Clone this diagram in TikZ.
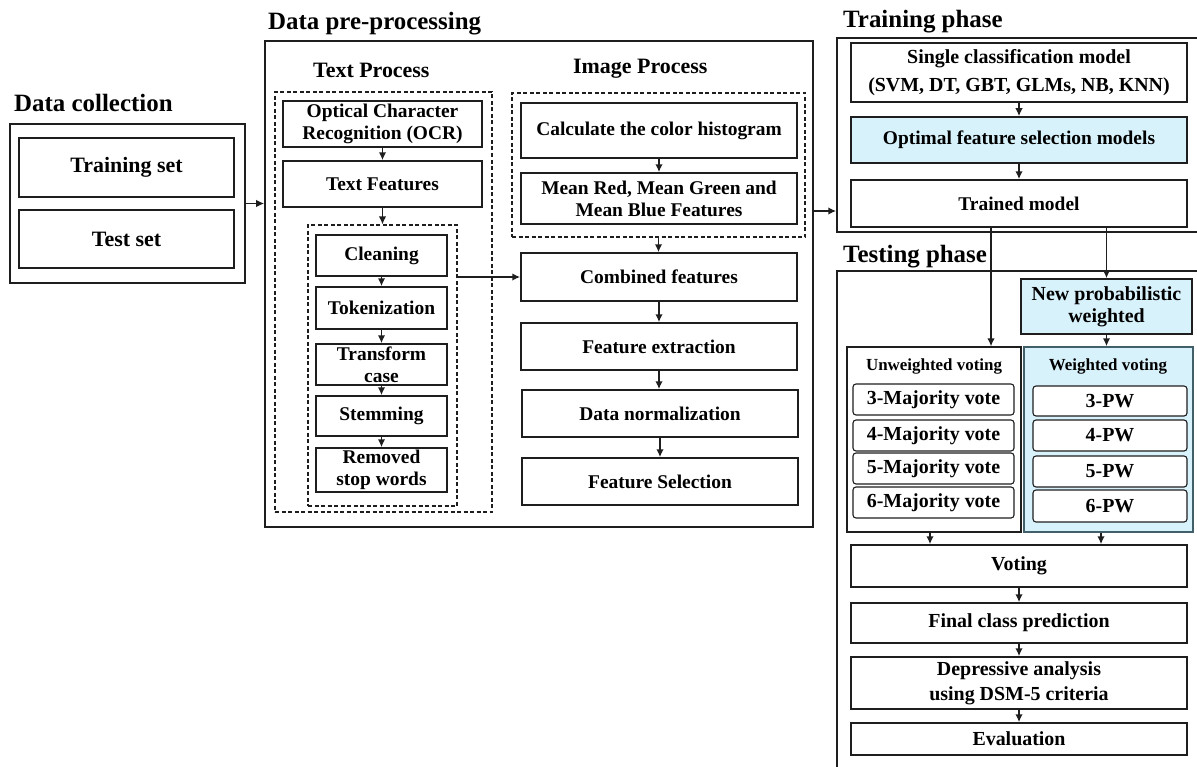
\documentclass[tikz,border=0pt]{standalone}
\usepackage{fontspec}
\setmainfont{Liberation Serif}
\usetikzlibrary{arrows.meta}
\definecolor{lb}{HTML}{D8F2FC}
\definecolor{wvb}{HTML}{41606A}
\definecolor{ln}{HTML}{1E1E1E}
\newcommand\bx[7]{\node[#1,minimum width={#5bp-#3bp},minimum height={#6bp-#4bp}] (#2) at ({(#3+#5)/2},{(#4+#6)/2}) {#7};}
\newcommand\fsz[2]{\fontsize{#1}{#2}\selectfont\bfseries}
\begin{document}
\begin{tikzpicture}[x=1bp,y=-1bp,
 box/.style={draw=ln,line width=1.5bp,inner sep=0pt,align=center,font=\fsz{19.5}{22}},
 cont/.style={draw=ln,line width=1.5bp,inner sep=0pt},
 dbox/.style={draw=ln,line width=1.1bp,dash pattern=on 4bp off 2.5bp,inner sep=0pt},
 rbox/.style={draw=ln,line width=1.1bp,rounded corners=3bp,fill=white,inner sep=0pt,align=center,font=\fsz{20}{22}},
 arr/.style={draw=ln,line width=1.8bp,-{Latex[length=8bp,width=7.5bp]}},
 ttl/.style={anchor=base west,inner sep=0pt,font=\fsz{25}{28}},
 sub/.style={anchor=base west,inner sep=0pt,font=\fsz{22}{24}},
 lab/.style={inner sep=0pt,font=\fsz{17}{19}},
]
\useasboundingbox (0,0) rectangle (1197,767);
\fill[white] (0,0) rectangle (1197,767);
\clip (0,0) rectangle (1197,767);

% Data collection
\node[ttl] (t1) at (14,112) {Data collection};
\bx{cont}{dc}{10}{124}{245}{283}{}
\bx{box,font=\fsz{22}{24}}{tr}{19}{138}{234}{197}{Training set}
\bx{box,font=\fsz{22}{24}}{ts}{19}{210}{234}{268}{Test set}

% Data pre-processing
\node[ttl] (t2) at (268,30) {Data pre-processing};
\bx{cont}{pre}{265}{41}{813}{527}{}
\node[sub] (t3) at (313,78) {Text Process};
\bx{dbox}{tdash}{275}{92}{492}{512}{}
\bx{box}{ocr}{283}{101}{482}{147}{Optical Character\\Recognition (OCR)}
\bx{box}{tf}{283}{161}{482}{207}{Text Features}
\bx{dbox}{tin}{308}{225}{457}{506}{}
\bx{box}{cl}{316}{235}{447}{276}{Cleaning}
\bx{box}{tok}{316}{287}{447}{329}{Tokenization}
\bx{box}{trc}{316}{344}{447}{385}{Transform\\case}
\bx{box}{stem}{316}{396}{447}{436}{Stemming}
\bx{box}{rsw}{316}{448}{447}{492}{Removed\\stop words}

\node[sub] (t4) at (573,74) {Image Process};
\bx{dbox}{imd}{512}{93}{805}{237}{}
\bx{box}{hist}{521}{103}{797}{158}{Calculate the color histogram}
\bx{box}{mrgb}{521}{173}{797}{224}{Mean Red, Mean Green and\\Mean Blue Features}
\bx{box}{comb}{521}{253}{797}{301}{Combined features}
\bx{box}{fe}{521}{323}{797}{370}{Feature extraction}
\bx{box}{dn}{522}{390}{798}{437}{Data normalization}
\bx{box}{fs}{522}{458}{798}{505}{Feature Selection}

% Training phase
\node[ttl] (t5) at (843,28) {Training phase};
\bx{cont}{trn}{837}{38}{1215}{232}{}
\bx{box,font=\fsz{20}{28}}{scm}{851}{43}{1187}{102}{Single classification model\\(SVM, DT, GBT, GLMs, NB, KNN)}
\bx{box,fill=lb}{ofs}{851}{117}{1187}{163}{Optimal feature selection models}
\bx{box}{tm}{851}{180}{1187}{227}{Trained model}

% Testing phase
\node[ttl] (t6) at (843,262) {Testing phase};
\bx{cont}{tst}{837}{271}{1215}{790}{}
\bx{box,fill=lb,font=\fsz{20}{22}}{npw}{1021}{279}{1192}{334}{New probabilistic\\weighted}
\bx{cont,line width=1.2bp}{uw}{847}{347}{1021}{532}{}
\bx{cont,line width=1.5bp,fill=lb,draw=wvb}{wv}{1024}{347}{1193}{532}{}
\node[lab] (uwl) at (934,366) {Unweighted voting};
\node[lab] (wvl) at (1108,366) {Weighted voting};
\bx{rbox}{m3}{853}{384}{1014}{415}{3-Majority vote}
\bx{rbox}{m4}{853}{420}{1014}{451}{4-Majority vote}
\bx{rbox}{m5}{853}{453}{1014}{484}{5-Majority vote}
\bx{rbox}{m6}{853}{487}{1014}{518}{6-Majority vote}
\bx{rbox}{p3}{1033}{386}{1187}{416}{3-PW}
\bx{rbox}{p4}{1033}{420}{1187}{451}{4-PW}
\bx{rbox}{p5}{1033}{456}{1187}{487}{5-PW}
\bx{rbox}{p6}{1033}{490}{1187}{522}{6-PW}
\bx{box,font=\fsz{20}{22}}{vote}{851}{545}{1187}{587}{Voting}
\bx{box,font=\fsz{20}{22}}{fcp}{851}{603}{1187}{643}{Final class prediction}
\bx{box,font=\fsz{20}{25}}{dep}{851}{657}{1187}{709}{Depressive analysis\\using DSM-5 criteria}
\bx{box,font=\fsz{20}{22}}{ev}{851}{723}{1187}{755}{Evaluation}

% Connectors
\draw[arr] (dc.east) -- (pre.west |- dc.east);
\draw[arr] (ocr.south) -- (tf.north);
\draw[arr] (tf.south) -- (tin.north);
\draw[arr] (cl.south) -- (tok.north);
\draw[arr] (tok.south) -- (trc.north);
\draw[arr] (trc.south) -- (stem.north);
\draw[arr] (stem.south) -- (rsw.north);
\draw[arr] (tin.east |- comb.west) -- (comb.west);
\draw[arr] (hist.south) -- (mrgb.north);
\draw[arr] (imd.south) -- (comb.north -| imd.south);
\draw[arr] (comb.south) -- (fe.north);
\draw[arr] (fe.south) -- (dn.north -| fe.south);
\draw[arr] (dn.south) -- (fs.north);
\draw[arr] (pre.east |- 0,211) -- (trn.west |- 0,211);
\draw[arr] (scm.south) -- (ofs.north);
\draw[arr] (ofs.south) -- (tm.north);
\draw[arr] (tm.south -| 991,0) -- (uw.north -| 991,0);
\draw[arr] (npw.north |- tm.south) -- (npw.north);
\draw[arr] (npw.south) -- (wv.north -| npw.south);
\draw[arr] (uw.south -| 930,0) -- (vote.north -| 930,0);
\draw[arr] (wv.south -| 1101,0) -- (vote.north -| 1101,0);
\draw[arr] (vote.south) -- (fcp.north);
\draw[arr] (fcp.south) -- (dep.north);
\draw[arr] (dep.south) -- (ev.north);
\end{tikzpicture}
\end{document}
